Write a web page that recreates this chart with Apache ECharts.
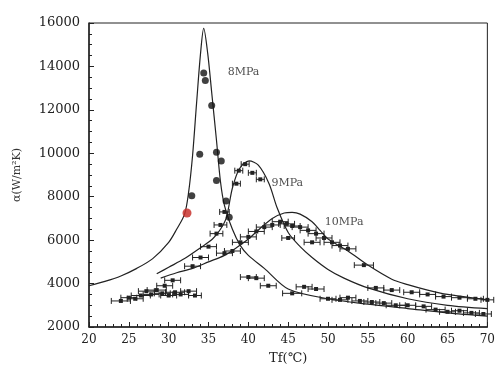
<!DOCTYPE html>
<html>
<head>
<meta charset="utf-8">
<script src="https://cdn.jsdelivr.net/npm/echarts@6/dist/echarts.min.js"></script>
<style>
html,body{margin:0;padding:0;background:#fff;}
#main{width:498px;height:374px;}
</style>
</head>
<body>
<div id="main"></div>
<script>
// 拟合曲线 (Tf, α)
var x8 = [20, 22, 24, 26, 28, 30, 31, 32, 32.5, 33, 33.5, 34, 34.4, 34.9, 35.4, 36, 36.5, 37, 38, 39, 40, 42, 45, 50, 55, 60, 65, 70];
var y8 = [3900, 4100, 4350, 4700, 5150, 5900, 6500, 7200, 8200, 9900, 12300, 14600, 15750, 14600, 12800, 10600, 8700, 7600, 6500, 5750, 5300, 4700, 3750, 3300, 3050, 2850, 2650, 2500];
var x9 = [28.5, 30, 32, 34, 35.5, 36.5, 37.25, 38, 38.9, 40.1, 41.25, 42.6, 43.6, 45, 46.5, 48, 50, 52, 55, 60, 65, 70];
var y9 = [4450, 4750, 5150, 5650, 6050, 6500, 7050, 8400, 9300, 9650, 9450, 8600, 7500, 6350, 5700, 5200, 4650, 4250, 3800, 3300, 3000, 2850];
var x10 = [29, 31, 33, 35, 37, 38.5, 40, 41.5, 43, 44.5, 45.5, 46.5, 48, 49, 50, 52.5, 55, 58, 60, 62.5, 65, 70];
var y10 = [4250, 4500, 4700, 5000, 5300, 5650, 6050, 6550, 7000, 7250, 7280, 7200, 6850, 6450, 6050, 5500, 4850, 4200, 3950, 3700, 3500, 3250];

// 8MPa 实验点 (实心圆)
var dots8 = [[34.4, 13700], [34.6, 13350], [35.4, 12200], [33.9, 9950], [36.0, 10050], [36.6, 9650], [36.0, 8750], [32.9, 8050], [37.2, 7800], [37.6, 7050]];
var redPt = [[32.3, 7250]];

// 带误差棒的实验点 [Tf, α, 半宽]
var errPts = [
  [24, 3200, 1.2], [25, 3350, 1], [25.8, 3300, 1], [26.5, 3450, 1.2], [27.2, 3650, 1], [27.8, 3500, 1],
  [28.5, 3700, 1.2], [29.2, 3550, 1], [30, 3450, 1], [30.8, 3600, 1.2], [31.5, 3500, 1], [32.5, 3650, 1],
  [33.3, 3450, 0.8], [29.5, 3900, 1], [30.5, 4150, 1],
  [33, 4800, 1], [34, 5200, 1], [35, 5700, 1], [36, 6300, 0.8], [36.5, 6700, 0.8], [37, 7300, 0.6],
  [38.8, 9200, 0.5], [39.6, 9500, 0.5], [40.5, 9100, 0.5], [41.5, 8800, 0.5], [38.5, 8600, 0.5],
  [37, 5400, 1], [38, 5500, 1], [39, 5900, 1], [40, 6150, 1], [41, 6400, 1], [42, 6600, 1], [43, 6700, 1],
  [44, 6850, 1], [44.8, 6750, 1], [45.5, 6650, 1], [46.5, 6600, 1], [47.5, 6450, 1], [48.5, 6300, 1],
  [49.5, 6100, 1], [50.5, 5900, 1], [51.5, 5750, 1], [52.5, 5600, 1], [45, 6100, 0.8], [48, 5900, 1], [54.5, 4850, 1.2],
  [40, 4300, 1], [41, 4250, 1], [42.5, 3900, 1], [45.5, 3550, 1.2], [47, 3850, 1], [48.5, 3750, 1],
  [50, 3300, 1], [51.5, 3250, 1], [52.5, 3350, 1], [54, 3200, 1], [55.5, 3150, 1], [57, 3100, 1],
  [58.5, 3000, 1.2], [60, 3000, 1], [62, 2950, 1], [63.5, 2800, 1.2], [65, 2700, 1], [66.5, 2750, 1],
  [68, 2650, 1], [69.5, 2600, 1],
  [56, 3800, 1], [58, 3700, 1], [60.5, 3600, 1], [62.5, 3500, 1], [64.5, 3400, 1], [66.5, 3350, 1],
  [68.5, 3300, 1], [70, 3250, 0.8]
];

var curveNames = ['8MPa', '9MPa', '10MPa'];
var labelAt = [[37.4, 13730], [42.9, 8620], [49.6, 6820]];

var serif = 'DejaVu Serif';

function zip(xs, ys) {
    return xs.map(function (v, i) { return [v, ys[i]]; });
}

var myChart = echarts.init(document.getElementById('main'));

var option = {
    animation: false,
    grid: {
        left: 89, right: 9, top: 23, bottom: 47,
        show: true, borderColor: '#222', borderWidth: 1
    },
    xAxis: {
        type: 'value',
        min: 20, max: 70, interval: 5,
        name: 'Tf(℃)',
        nameLocation: 'middle',
        nameGap: 25,
        nameTextStyle: { fontFamily: serif, fontSize: 13, color: '#222' },
        axisLine: { lineStyle: { color: '#222', width: 1.5 } },
        axisTick: { inside: true, length: 5, lineStyle: { color: '#222' } },
        minorTick: { show: true, splitNumber: 5, length: 3, lineStyle: { color: '#222' } },
        axisLabel: { fontFamily: serif, fontSize: 12, color: '#222', margin: 7 },
        splitLine: { show: false }
    },
    yAxis: {
        type: 'value',
        min: 2000, max: 16000, interval: 2000,
        name: 'α(W/m²K)',
        nameLocation: 'middle',
        nameGap: 66,
        nameTextStyle: { fontFamily: serif, fontSize: 11, color: '#333' },
        axisLine: { lineStyle: { color: '#222', width: 1.5 } },
        axisTick: { inside: true, length: 5, lineStyle: { color: '#222' } },
        minorTick: { show: true, splitNumber: 4, length: 3, lineStyle: { color: '#222' } },
        axisLabel: {
            fontFamily: serif, fontSize: 13, color: '#222', margin: 9,
            formatter: function (v) { return String(v); }
        },
        splitLine: { show: false }
    },
    series: [
        {
            name: curveNames[0], type: 'line', data: zip(x8, y8),
            showSymbol: false, smooth: 0.3,
            lineStyle: { color: '#222', width: 1.2 }, z: 3
        },
        {
            name: curveNames[1], type: 'line', data: zip(x9, y9),
            showSymbol: false, smooth: 0.3,
            lineStyle: { color: '#222', width: 1.2 }, z: 3
        },
        {
            name: curveNames[2], type: 'line', data: zip(x10, y10),
            showSymbol: false, smooth: 0.3,
            lineStyle: { color: '#222', width: 1.2 }, z: 3
        },
        {
            name: '误差', type: 'custom', data: errPts, z: 4,
            renderItem: function (params, api) {
                var x = api.value(0), y = api.value(1), h = api.value(2);
                var p0 = api.coord([x - h, y]);
                var p1 = api.coord([x + h, y]);
                var c = api.coord([x, y]);
                var st = { stroke: '#222', lineWidth: 1 };
                return {
                    type: 'group',
                    children: [
                        { type: 'line', shape: { x1: p0[0], y1: p0[1], x2: p1[0], y2: p1[1] }, style: st },
                        { type: 'line', shape: { x1: p0[0], y1: p0[1] - 3, x2: p0[0], y2: p0[1] + 3 }, style: st },
                        { type: 'line', shape: { x1: p1[0], y1: p1[1] - 3, x2: p1[0], y2: p1[1] + 3 }, style: st },
                        { type: 'rect', shape: { x: c[0] - 2, y: c[1] - 2, width: 4, height: 4 }, style: { fill: '#222' } }
                    ]
                };
            }
        },
        {
            name: '8MPa实验', type: 'scatter', data: dots8, z: 5,
            symbol: 'circle', symbolSize: 7,
            itemStyle: { color: '#111' }
        },
        {
            name: 'red', type: 'scatter', data: redPt, z: 5,
            symbol: 'circle', symbolSize: 9,
            itemStyle: { color: '#c8322e', opacity: 0.85 }
        },
        {
            name: '标注', type: 'scatter', z: 6, symbolSize: 0,
            data: labelAt.map(function (p, i) { return { value: p, name: curveNames[i] }; }),
            label: {
                show: true, position: 'right', distance: 0,
                formatter: '{b}',
                fontFamily: serif, fontSize: 11, color: '#222'
            }
        }
    ]
};
myChart.setOption(option);
</script>
</body>
</html>
